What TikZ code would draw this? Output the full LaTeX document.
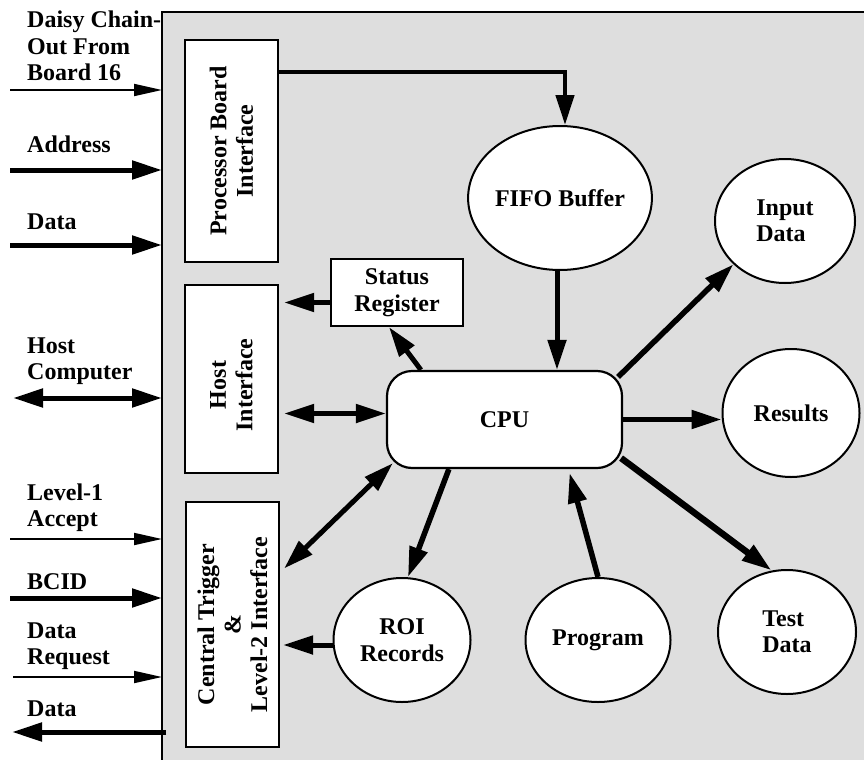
\documentclass[tikz,border=0pt]{standalone}
\usepackage{fontspec}
\setmainfont{Liberation Serif}
\usetikzlibrary{arrows.meta,shapes.geometric,calc}
\definecolor{panelgray}{RGB}{222,222,222}
\begin{document}
\begin{tikzpicture}[x=1pt,y=-1pt,
  txt/.style={font=\bfseries\fontsize{24}{26.5}\selectfont},
  lbl/.style={txt, align=left, inner sep=0pt, text depth=0pt, anchor=south west},
  box/.style={draw, line width=2.2pt, fill=white, inner sep=0pt},
  rottext/.style={txt, rotate=90, align=center, inner sep=0pt},
  blob/.style={ellipse, draw, line width=2pt, fill=white, inner sep=0pt, txt},
  thinarrow/.style={line width=1.8pt, -{Triangle[length=28pt,width=12pt]}},
  fat/.style={line width=5pt, -{Triangle[length=30pt,width=18pt]}},
  fatboth/.style={line width=5pt, {Triangle[length=30pt,width=18pt]}-{Triangle[length=30pt,width=18pt]}},
]
\path[use as bounding box] (0,0) rectangle (864,760);

% panel
\node[fill=panelgray, minimum width=702pt, minimum height=748pt, inner sep=0pt, anchor=north west] (panel) at (162,12) {};
\draw[line width=2pt] (panel.north east) -- (panel.north west) -- (panel.south west);

% interface boxes
\node[box, minimum width=93pt, minimum height=222pt] (pbi) at (231.5,151) {};
\node[rottext] (pbitext) at (pbi.center) {Processor Board\\Interface};
\node[box, minimum width=93pt, minimum height=188pt] (host) at (231.5,379) {};
\node[rottext] (hosttext) at ([xshift=0pt,yshift=-6pt]host.center) {Host\\Interface};
\node[box, minimum width=93pt, minimum height=245pt] (ctl) at (232.5,624.5) {};
\node[rottext] (ctltext) at (ctl.center) {Central Trigger\\\&\\Level-2 Interface};

\node[box, txt, align=center, minimum width=132pt, minimum height=67pt] (status) at (397,292.5) {Status\\Register};
\node[box, txt, rounded corners=25pt, minimum width=235pt, minimum height=97pt] (cpu) at (504.5,419.5) {CPU};

% ellipses
\node[blob, minimum width=165pt, minimum height=144pt] (fifo) at (560,198) {FIFO Buffer};
\node[blob, align=left, minimum width=140pt, minimum height=124pt] (input) at (785,221) {Input\\Data};
\node[blob, minimum width=137pt, minimum height=128pt] (results) at (791,413) {Results};
\node[blob, align=left, minimum width=138pt, minimum height=124pt] (test) at (787,632) {Test\\Data};
\node[blob, minimum width=145pt, minimum height=124pt] (program) at (598,640) {Program};
\node[blob, align=center, minimum width=137pt, minimum height=124pt] (roi) at (402,640) {ROI\\Records};

% left labels
\node[lbl] (dc) at (27,81) {Daisy Chain-\\Out From\\Board 16};
\node[lbl] (addr) at (27,153) {Address};
\node[lbl] (datain) at (27,230) {Data};
\node[lbl] (hc) at (27,380) {Host\\Computer};
\node[lbl] (lone) at (27,527) {Level-1\\Accept};
\node[lbl] (bcid) at (27,590) {BCID};
\node[lbl] (dreq) at (27,665) {Data\\Request};
\node[lbl] (dataout) at (27,717) {Data};

% left connectors
\coordinate (dcL) at (10,90);
\coordinate (addrL) at (10,170);
\coordinate (dataL) at (10,245);
\coordinate (hcL) at (13,398);
\coordinate (loneL) at (10,539);
\coordinate (bcidL) at (10,598);
\coordinate (dreqL) at (13,677);
\coordinate (doutL) at (12,732);
\draw[thinarrow] (dcL) -- (dcL -| panel.west);
\draw[fat] (addrL) -- (addrL -| panel.west);
\draw[fat] (dataL) -- (dataL -| panel.west);
\draw[fatboth] (hcL) -- (hcL -| panel.west);
\draw[thinarrow] (loneL) -- (loneL -| panel.west);
\draw[fat] (bcidL) -- (bcidL -| panel.west);
\draw[thinarrow] (dreqL) -- (dreqL -| panel.west);
\draw[fat] ([xshift=4pt]doutL -| panel.west) -- (doutL);

% inner connectors
\draw[fat, line width=4.5pt] ([yshift=-33pt]pbi.north east) -| ([xshift=5pt]fifo.north);
\draw[fat] ([xshift=-3pt]fifo.south) -- ([xshift=-3pt]fifo.south |- cpu.north);
\draw[fat] ([xshift=35pt]cpu.north west) -- ([xshift=-8pt]status.south);
\draw[fat, shorten >=5pt] ([yshift=-10pt]status.west) -- ([yshift=-10pt]status.west -| host.east);
\draw[fatboth, shorten >=5pt] ([yshift=6pt]cpu.west) -- ([yshift=6pt]cpu.west -| host.east);
\draw[fatboth] ([xshift=7pt,yshift=6pt]cpu.south west) -- ([xshift=4pt,yshift=56pt]ctl.east);
\draw[fat, line width=5.5pt] ([xshift=63pt]cpu.south west) -- ([xshift=6pt]roi.north);
\draw[fat, shorten >=3pt] ([yshift=-5pt]roi.west) -- ([yshift=-5pt]roi.west -| ctl.east);
\draw[fat, line width=5.5pt, shorten >=4pt] (program.north) -- ([xshift=64pt]cpu.south);
\draw[fat, line width=5.5pt] ([xshift=-5pt,yshift=-7pt]cpu.north east) -- (input.220);
\draw[fat] (cpu.east) -- (cpu.east -| results.west);
\draw[fat, line width=6.5pt] ([xshift=-2pt,yshift=11pt]cpu.south east) -- (test.104);
\end{tikzpicture}
\end{document}
